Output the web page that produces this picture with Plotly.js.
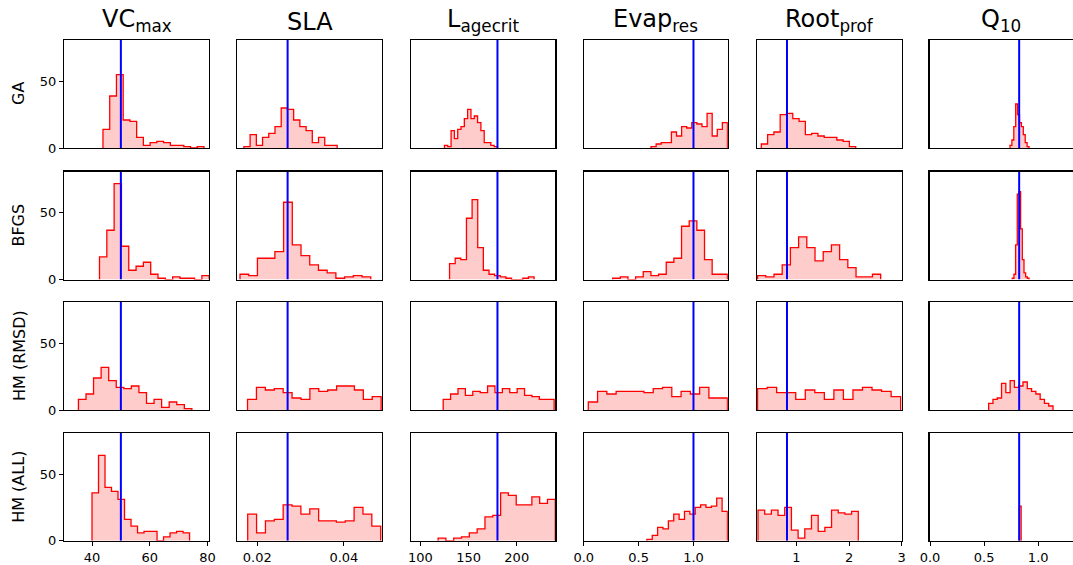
<!DOCTYPE html>
<html>
<head>
<meta charset="utf-8">
<script src="https://cdn.plot.ly/plotly-3.0.1.min.js"></script>
<style>html,body{margin:0;padding:0;background:#fff;}#chart{width:1073px;height:565px;}</style>
</head>
<body>
<div id="chart"></div>
<script>
// ---------- data ----------
const parameters = ["VC<sub>max</sub>", "SLA", "L<sub>agecrit</sub>", "Evap<sub>res</sub>", "Root<sub>prof</sub>", "Q<sub>10</sub>"];
const methods = ["GA", "BFGS", "HM (RMSD)", "HM (ALL)"];
const trueValues = [50, 0.027, 180, 1.0, 0.82, 0.824];
const xRanges = [[30.3, 80.6], [0.0154, 0.0488], [90.3, 240.0], [0, 1.313], [0.25, 3.0], [-0.005, 1.317]];
const xTickVals = [[40, 60, 80], [0.02, 0.04], [100, 150, 200], [0, 0.5, 1.0], [1, 2, 3], [0, 0.5, 1.0]];
const xTickText = [["40", "60", "80"], ["0.02", "0.04"], ["100", "150", "200"], ["0.0", "0.5", "1.0"], ["1", "2", "3"], ["0.0", "0.5", "1.0"]];
const yTickVals = [0, 50];
const yMax = 81;

// histogram bin ranges [lo, hi] and counts, per method and parameter
const gaBins = [[43.8, 78.8], [0.0169, 0.03845], [125, 180], [0.613, 1.31], [0.332, 2.126], [0.739, 0.915]];
const gaCounts = [
  [14, 39, 55, 21, 20, 8, 2, 4, 5, 4, 2, 2, 1, 0, 1],
  [1, 10, 2, 8, 11, 16, 30, 29, 21, 16, 13, 4, 8, 2, 2],
  [2, 1, 13, 7, 14, 16, 22, 29, 22, 24, 19, 13, 4, 4, 2, 1],
  [1, 3, 4, 4, 12, 9, 16, 15, 19, 18, 16, 26, 9, 14, 19],
  [3, 10, 12, 25, 26, 22, 20, 10, 11, 9, 8, 8, 6, 5, 1],
  [2, 6, 16, 33, 25, 19, 16, 10, 4, 1]
];
const bfgsBins = [[42.6, 80.6], [0.016, 0.0462], [130.3, 218], [0.263, 1.31], [0.261, 2.6], [0.76, 0.915]];
const bfgsCounts = [
  [17, 37, 72, 25, 7, 10, 13, 4, 1, 0, 2, 1, 1, 0, 3],
  [4, 3, 16, 16, 21, 58, 26, 18, 11, 7, 5, 1, 2, 3, 2],
  [12, 16, 15, 46, 60, 24, 7, 4, 3, 2, 1, 0, 0, 1, 2],
  [1, 2, 0, 2, 6, 3, 4, 13, 16, 40, 44, 37, 15, 4, 4],
  [3, 2, 4, 11, 24, 32, 24, 14, 21, 26, 15, 9, 2, 2, 4],
  [1, 4, 26, 64, 66, 38, 15, 5, 2, 1]
];
const hmRmsdBins = [[35.3, 74.6], [0.01774, 0.0486], [123.7, 238.8], [0.041, 1.31], [0.261, 2.98], [0.542, 1.137]];
const hmRmsdCounts = [
  [8, 12, 24, 32, 22, 17, 16, 18, 13, 5, 8, 2, 6, 4, 1],
  [8, 17, 15, 16, 13, 9, 8, 16, 14, 15, 18, 18, 15, 8, 10],
  [8, 12, 16, 11, 14, 13, 18, 13, 16, 13, 16, 11, 10, 8, 8],
  [6, 14, 12, 14, 14, 14, 13, 16, 17, 10, 14, 12, 17, 9, 9],
  [16, 17, 13, 13, 8, 15, 13, 8, 15, 8, 15, 17, 15, 14, 10],
  [5, 8, 9, 20, 13, 22, 17, 18, 21, 16, 14, 12, 8, 5, 3]
];
const hmAllBins = [[40.0, 73.8], [0.01778, 0.0485], [118.4, 240], [0.575, 1.31], [0.269, 2.175], [0.826, 0.842]];
const hmAllCounts = [
  [36, 64, 40, 37, 31, 16, 11, 6, 7, 7, 0, 3, 6, 7, 6],
  [20, 6, 15, 16, 27, 26, 20, 24, 15, 15, 14, 15, 25, 20, 11],
  [2, 0, 2, 3, 6, 9, 18, 19, 36, 34, 27, 27, 33, 28, 31],
  [1, 4, 10, 9, 15, 20, 16, 22, 20, 25, 27, 25, 26, 32, 22],
  [23, 20, 23, 19, 25, 8, 2, 9, 19, 7, 10, 23, 21, 20, 22],
  [26]
];
const allBins = [gaBins, bfgsBins, hmRmsdBins, hmAllBins];
const allCounts = [gaCounts, bfgsCounts, hmRmsdCounts, hmAllCounts];

// ---------- layout geometry (pixels) ----------
const W = 1073, H = 565;
const colLeft = [64, 237.4, 411, 583.8, 757, 929.5];
const colWidth = [145.2, 144.6, 144.3, 144.0, 144.7, 143.0];
const rowTop = [40, 171.6, 302, 432.8];
const rowHeight = 108;

const FONT = "DejaVu Sans, Arial, sans-serif";
const traces = [];
const layout = {
  width: W, height: H,
  margin: {l: 0, r: 0, t: 0, b: 0},
  paper_bgcolor: "#ffffff", plot_bgcolor: "#ffffff",
  showlegend: false,
  font: {family: FONT, color: "#000", size: 13},
  annotations: []
};

function stepPath(lo, hi, counts) {
  const n = counts.length;
  const e = [];
  for (let k = 0; k <= n; k++) e.push(lo + (hi - lo) * k / n);
  const xs = [e[0]], ys = [0];
  for (let k = 0; k < n; k++) { xs.push(e[k]); ys.push(counts[k]); }
  xs.push(e[n]); ys.push(counts[n - 1]);
  xs.push(e[n]); ys.push(0);
  return {xs, ys};
}

for (let r = 0; r < 4; r++) {
  for (let c = 0; c < 6; c++) {
    const idx = r * 6 + c + 1;
    const xa = "x" + (idx === 1 ? "" : idx), ya = "y" + (idx === 1 ? "" : idx);
    const xKey = "xaxis" + (idx === 1 ? "" : idx), yKey = "yaxis" + (idx === 1 ? "" : idx);
    const x0 = colLeft[c] / W, x1 = (colLeft[c] + colWidth[c]) / W;
    const y1 = 1 - rowTop[r] / H, y0 = 1 - (rowTop[r] + rowHeight) / H;
    layout[xKey] = {
      domain: [x0, x1], range: xRanges[c], anchor: ya,
      showline: true, mirror: true, linecolor: "#000", linewidth: 1.2,
      showgrid: false, zeroline: false,
      ticks: r === 3 ? "outside" : "", ticklen: 4, tickwidth: 1, tickcolor: "#000",
      showticklabels: r === 3, tickmode: "array", tickvals: xTickVals[c], ticktext: xTickText[c],
      tickfont: {family: FONT, size: 13, color: "#000"}, fixedrange: true
    };
    layout[yKey] = {
      domain: [y0, y1], range: [0, yMax], anchor: xa,
      showline: true, mirror: true, linecolor: "#000", linewidth: 1.2,
      showgrid: false, zeroline: false,
      ticks: c === 0 ? "outside" : "", ticklen: 4, tickwidth: 1, tickcolor: "#000",
      showticklabels: c === 0, tickmode: "array", tickvals: yTickVals,
      tickfont: {family: FONT, size: 13, color: "#000"}, fixedrange: true
    };
    const b = allBins[r][c];
    const p = stepPath(b[0], b[1], allCounts[r][c]);
    traces.push({
      type: "scatter", mode: "lines", x: p.xs, y: p.ys, xaxis: xa, yaxis: ya,
      line: {shape: "hv", color: "#ff0000", width: 1.3},
      fill: "tozeroy", fillcolor: "rgba(255,0,0,0.2)", hoverinfo: "skip"
    });
    traces.push({
      type: "scatter", mode: "lines", x: [trueValues[c], trueValues[c]], y: [0, yMax],
      xaxis: xa, yaxis: ya, line: {color: "#0000ff", width: 2}, hoverinfo: "skip"
    });
  }
}

// column titles
for (let c = 0; c < 6; c++) {
  layout.annotations.push({
    text: parameters[c], xref: "paper", yref: "paper",
    x: (colLeft[c] + colWidth[c] / 2) / W, y: 1 - 40 / H,
    xanchor: "center", yanchor: "bottom", yshift: 2, showarrow: false,
    font: {family: FONT, size: 24, color: "#000"}
  });
}
// row labels
for (let r = 0; r < 4; r++) {
  layout.annotations.push({
    text: methods[r], xref: "paper", yref: "paper",
    x: 19 / W, y: 1 - (rowTop[r] + rowHeight / 2) / H,
    xanchor: "center", yanchor: "middle", textangle: -90, showarrow: false,
    font: {family: FONT, size: 16, color: "#000"}
  });
}

Plotly.newPlot("chart", traces, layout, {staticPlot: true, displayModeBar: false});
</script>
</body>
</html>
